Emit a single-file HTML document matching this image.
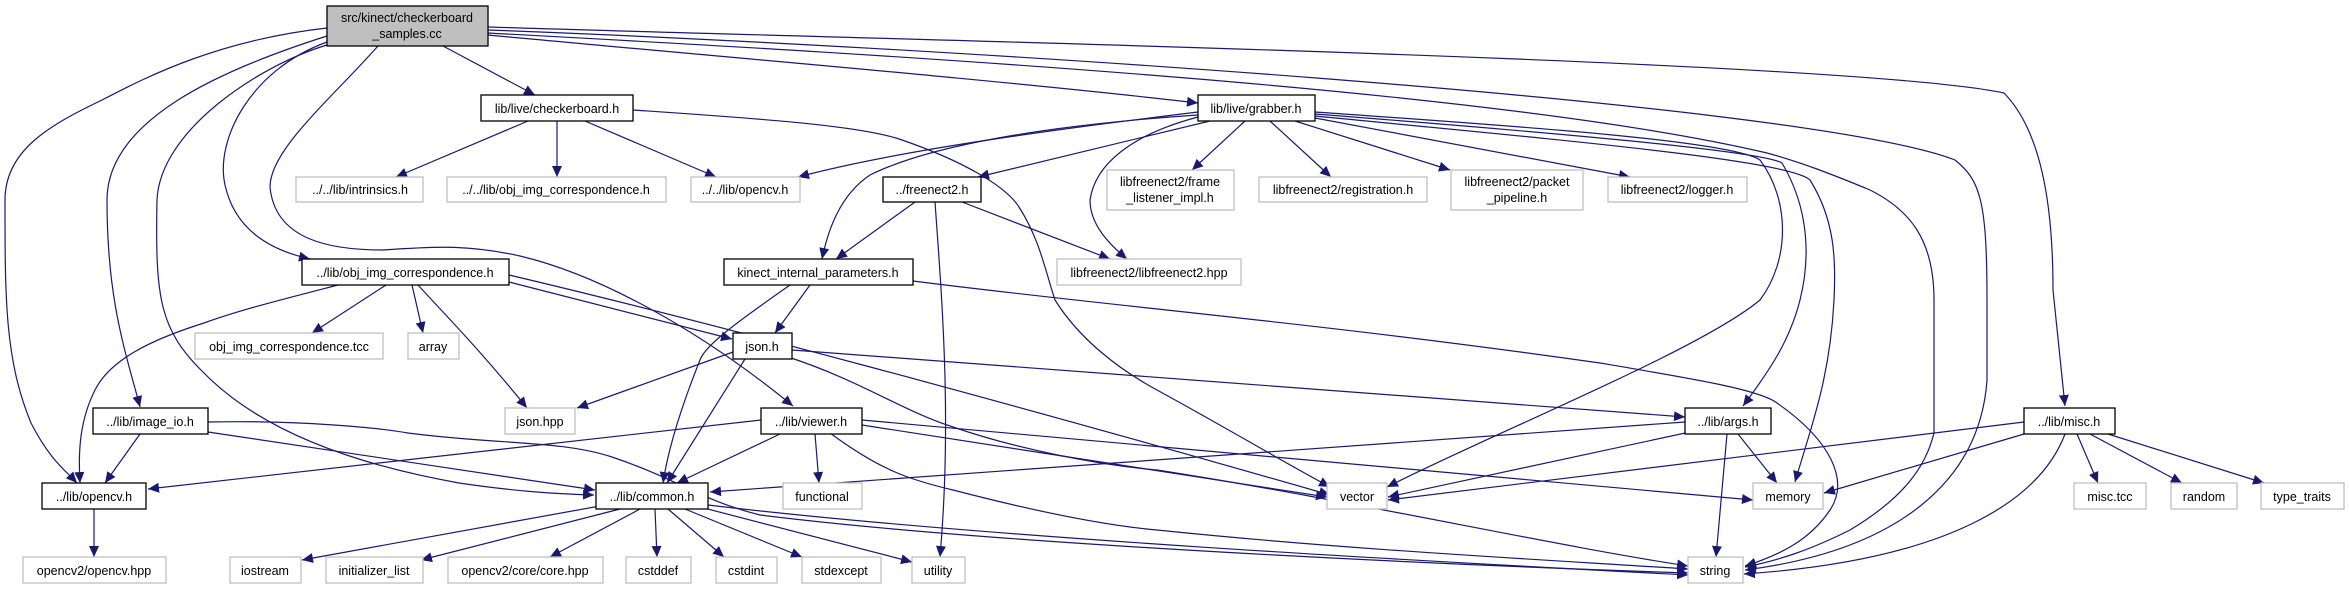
<!DOCTYPE html>
<html><head><meta charset="utf-8"><style>
html,body{margin:0;padding:0;background:#fff;}
svg{display:block;}
text{font-family:"Liberation Sans",sans-serif;font-size:12.5px;fill:#000;text-anchor:middle;}
.e{fill:none;stroke:#191970;stroke-width:1.2;}
.d{fill:#fff;stroke:#000;stroke-width:1.3;}
.x{fill:#fff;stroke:#bfbfbf;stroke-width:1.3;}
</style></head><body>
<svg width="2349" height="589" viewBox="0 0 2349 589" xmlns="http://www.w3.org/2000/svg">
<defs><marker id="a" markerUnits="userSpaceOnUse" markerWidth="12" markerHeight="10" refX="11" refY="5" orient="auto"><path d="M0,0 L11,5 L0,10 z" fill="#191970"/></marker></defs>
<g marker-end="url(#a)">
<!-- main -->
<path class="e" d="M443,46 L535,95"/>
<path class="e" d="M488,35 C700,55 1000,80 1198,103"/>
<path class="e" d="M327,42 C250,70 215,140 225,185 C235,230 270,250 310,259"/>
<path class="e" d="M378,46 C330,100 270,150 270,187 C275,240 330,250 383,250 C440,246 470,245 520,256 C600,275 700,330 793,406"/>
<path class="e" d="M327,45 C260,65 160,130 157,200 C155,300 160,330 204,373 C250,420 330,460 459,483 C520,492 560,494 594,495"/>
<path class="e" d="M327,36 C220,70 107,120 107,200 C107,300 125,350 140,407"/>
<path class="e" d="M327,28 C220,40 150,75 102,100 C50,125 5,150 5,200 C5,300 5,360 31,423 C50,460 65,470 77,483"/>
<path class="e" d="M488,27 C900,40 1850,60 2004,93 C2040,130 2053,200 2053,290 L2065,406"/>
<path class="e" d="M488,30 C900,45 1800,100 1955,160 C1980,180 1987,200 1987,300 L1987,380 C1980,480 1900,550 1745,570"/>
<path class="e" d="M488,33 C900,55 1500,90 1767,153 C1800,162 1829,173 1870,190 C1910,210 1934,240 1934,300 L1934,433 C1925,470 1900,500 1850,530 C1810,550 1780,560 1745,567"/>
<!-- checkerboard -->
<path class="e" d="M528,121 L396,177"/>
<path class="e" d="M557,121 L557,177"/>
<path class="e" d="M585,121 L716,177"/>
<path class="e" d="M633,110 C750,118 860,125 902,140 C960,160 1005,185 1019,207 C1040,240 1045,270 1055,300 C1080,340 1120,370 1157,390 C1230,430 1280,460 1330,487"/>
<!-- grabber -->
<path class="e" d="M1210,121 L978,177"/>
<path class="e" d="M1245,121 L1192,170"/>
<path class="e" d="M1270,121 L1331,177"/>
<path class="e" d="M1295,121 L1450,170"/>
<path class="e" d="M1315,118 L1630,177"/>
<path class="e" d="M1198,112 C1050,130 900,150 798,177"/>
<path class="e" d="M1198,115 C1050,125 930,145 870,175 C840,195 828,230 822,259"/>
<path class="e" d="M1198,117 C1130,135 1095,165 1090,200 C1090,225 1110,245 1127,259"/>
<path class="e" d="M1315,112 C1500,125 1730,140 1760,160 C1790,200 1790,260 1760,300 C1700,350 1500,430 1387,487"/>
<path class="e" d="M1315,114 C1520,130 1760,150 1782,163 C1810,210 1810,260 1800,300 C1790,340 1770,370 1743,406"/>
<path class="e" d="M1315,116 C1560,140 1790,160 1810,180 C1835,220 1836,260 1834,300 C1830,380 1810,430 1795,482"/>
<!-- freenect2 -->
<path class="e" d="M915,202 L836,259"/>
<path class="e" d="M962,202 L1110,259"/>
<path class="e" d="M935,202 C942,300 952,420 940,557"/>
<!-- kinect -->
<path class="e" d="M810,285 L775,333"/>
<path class="e" d="M790,285 C740,320 705,345 700,360 C680,410 668,450 663,483"/>
<path class="e" d="M913,281 C1100,305 1320,323 1600,363 C1700,380 1760,390 1777,403 C1830,440 1850,480 1830,510 C1810,540 1780,555 1745,566"/>
<!-- obj_img_correspondence -->
<path class="e" d="M386,285 L312,333"/>
<path class="e" d="M412,285 L423,333"/>
<path class="e" d="M418,285 C450,320 480,350 527,408"/>
<path class="e" d="M338,285 C280,300 240,310 204,323 C150,340 110,360 95,390 C80,420 78,450 80,483"/>
<path class="e" d="M509,282 L732,339"/>
<path class="e" d="M509,275 C700,320 1000,400 1330,495"/>
<!-- json.h -->
<path class="e" d="M733,352 L577,408"/>
<path class="e" d="M745,359 L667,483"/>
<path class="e" d="M792,350 L1685,417"/>
<path class="e" d="M785,356 C860,380 900,410 953,427 C1020,450 1100,465 1157,470 C1350,500 1550,545 1688,566"/>
<!-- image_io -->
<path class="e" d="M140,434 L105,483"/>
<path class="e" d="M208,432 L595,490"/>
<path class="e" d="M208,422 C300,420 380,428 408,433 C500,445 560,440 612,457 C680,480 700,500 760,515 C1000,545 1450,565 1688,573"/>
<!-- viewer -->
<path class="e" d="M761,420 L148,489"/>
<path class="e" d="M780,434 L677,483"/>
<path class="e" d="M815,434 L819,483"/>
<path class="e" d="M862,425 L1327,497"/>
<path class="e" d="M862,420 L1753,500"/>
<path class="e" d="M830,433 C880,470 910,480 953,490 C1030,510 1100,525 1157,530 C1350,550 1550,560 1688,569"/>
<!-- common -->
<path class="e" d="M600,506 L302,560"/>
<path class="e" d="M620,509 L421,560"/>
<path class="e" d="M640,509 L550,557"/>
<path class="e" d="M655,509 L657,557"/>
<path class="e" d="M668,509 L724,557"/>
<path class="e" d="M685,509 L802,557"/>
<path class="e" d="M700,507 L912,562"/>
<path class="e" d="M708,505 C1000,540 1500,565 1688,575"/>
<!-- args -->
<path class="e" d="M1685,422 L710,492"/>
<path class="e" d="M1690,432 L1388,497"/>
<path class="e" d="M1738,434 L1777,483"/>
<path class="e" d="M1727,434 L1716,557"/>
<!-- misc -->
<path class="e" d="M2024,422 L1388,500"/>
<path class="e" d="M2024,434 L1824,493"/>
<path class="e" d="M2065,434 C2040,500 1950,560 1744,574"/>
<path class="e" d="M2077,434 L2098,483"/>
<path class="e" d="M2090,434 L2182,483"/>
<path class="e" d="M2108,434 L2264,483"/>
<!-- opencv -->
<path class="e" d="M94,509 L94,557"/>
</g>
<!-- nodes -->
<rect x="327" y="6" width="161" height="40" fill="#bfbfbf" stroke="#000" stroke-width="1.3"/>
<text x="407" y="22">src/kinect/checkerboard</text><text x="407" y="38">_samples.cc</text>
<rect class="d" x="481" y="95" width="152" height="26"/><text x="557" y="113">lib/live/checkerboard.h</text>
<rect class="x" x="296" y="177" width="127" height="25"/><text x="360" y="194">../../lib/intrinsics.h</text>
<rect class="x" x="447" y="177" width="219" height="25"/><text x="556" y="194">../../lib/obj_img_correspondence.h</text>
<rect class="x" x="691" y="177" width="109" height="25"/><text x="745" y="194">../../lib/opencv.h</text>
<rect class="d" x="302" y="259" width="207" height="26"/><text x="405" y="277">../lib/obj_img_correspondence.h</text>
<rect class="d" x="724" y="259" width="189" height="26"/><text x="818" y="277">kinect_internal_parameters.h</text>
<rect class="d" x="1198" y="95" width="117" height="26"/><text x="1256" y="113">lib/live/grabber.h</text>
<rect class="d" x="883" y="177" width="98" height="25"/><text x="932" y="194">../freenect2.h</text>
<rect class="x" x="1107" y="170" width="127" height="40"/><text x="1170" y="186">libfreenect2/frame</text><text x="1170" y="202">_listener_impl.h</text>
<rect class="x" x="1259" y="177" width="168" height="25"/><text x="1343" y="194">libfreenect2/registration.h</text>
<rect class="x" x="1451" y="170" width="132" height="40"/><text x="1517" y="186">libfreenect2/packet</text><text x="1517" y="202">_pipeline.h</text>
<rect class="x" x="1608" y="177" width="139" height="25"/><text x="1677" y="194">libfreenect2/logger.h</text>
<rect class="x" x="1057" y="259" width="184" height="26"/><text x="1149" y="277">libfreenect2/libfreenect2.hpp</text>
<rect class="x" x="195" y="333" width="188" height="26"/><text x="289" y="351">obj_img_correspondence.tcc</text>
<rect class="x" x="408" y="333" width="51" height="26"/><text x="433" y="351">array</text>
<rect class="d" x="733" y="333" width="59" height="26"/><text x="762" y="351">json.h</text>
<rect class="x" x="505" y="408" width="70" height="26"/><text x="540" y="426">json.hpp</text>
<rect class="d" x="93" y="408" width="115" height="26"/><text x="150" y="426">../lib/image_io.h</text>
<rect class="d" x="761" y="408" width="101" height="26"/><text x="811" y="426">../lib/viewer.h</text>
<rect class="d" x="1685" y="408" width="86" height="26"/><text x="1728" y="426">../lib/args.h</text>
<rect class="d" x="2024" y="408" width="91" height="26"/><text x="2069" y="426">../lib/misc.h</text>
<rect class="d" x="42" y="483" width="104" height="26"/><text x="94" y="501">../lib/opencv.h</text>
<rect class="d" x="596" y="483" width="112" height="26"/><text x="652" y="501">../lib/common.h</text>
<rect class="x" x="783" y="483" width="79" height="26"/><text x="822" y="501">functional</text>
<rect class="x" x="1327" y="483" width="60" height="26"/><text x="1357" y="501">vector</text>
<rect class="x" x="1753" y="483" width="70" height="26"/><text x="1788" y="501">memory</text>
<rect class="x" x="2074" y="483" width="72" height="26"/><text x="2110" y="501">misc.tcc</text>
<rect class="x" x="2171" y="483" width="66" height="26"/><text x="2204" y="501">random</text>
<rect class="x" x="2261" y="483" width="83" height="26"/><text x="2302" y="501">type_traits</text>
<rect class="x" x="23" y="557" width="143" height="26"/><text x="94" y="575">opencv2/opencv.hpp</text>
<rect class="x" x="230" y="557" width="71" height="26"/><text x="265" y="575">iostream</text>
<rect class="x" x="326" y="557" width="97" height="26"/><text x="374" y="575">initializer_list</text>
<rect class="x" x="448" y="557" width="155" height="26"/><text x="525" y="575">opencv2/core/core.hpp</text>
<rect class="x" x="626" y="557" width="65" height="26"/><text x="658" y="575">cstddef</text>
<rect class="x" x="716" y="557" width="61" height="26"/><text x="746" y="575">cstdint</text>
<rect class="x" x="802" y="557" width="79" height="26"/><text x="841" y="575">stdexcept</text>
<rect class="x" x="912" y="557" width="53" height="26"/><text x="938" y="575">utility</text>
<rect class="x" x="1688" y="557" width="55" height="26"/><text x="1715" y="575">string</text>
</svg>
</body></html>
